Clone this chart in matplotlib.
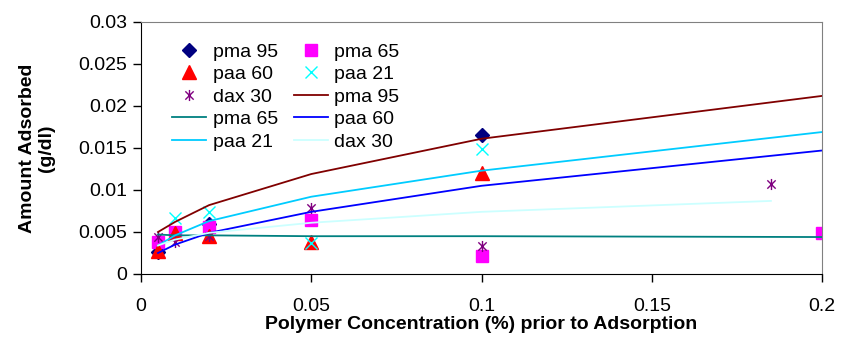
import matplotlib
matplotlib.use("Agg")
import matplotlib.pyplot as plt
from matplotlib.path import Path

plt.rcParams['font.family'] = ['Liberation Sans', 'DejaVu Sans']

# measured points
pma95_x = [0.005, 0.02, 0.1]
pma95_y = [0.0026, 0.0060, 0.0165]
pma65_x = [0.005, 0.01, 0.02, 0.05, 0.1, 0.2]
pma65_y = [0.0038, 0.0050, 0.0056, 0.0064, 0.0021, 0.0049]
paa60_x = [0.005, 0.01, 0.02, 0.05, 0.1]
paa60_y = [0.0027, 0.0049, 0.0045, 0.0038, 0.0120]
paa21_x = [0.01, 0.02, 0.05, 0.1]
paa21_y = [0.0067, 0.0074, 0.0037, 0.0149]
dax30_x = [0.005, 0.01, 0.02, 0.05, 0.1, 0.185]
dax30_y = [0.0044, 0.0038, 0.0045, 0.0079, 0.0033, 0.0107]

# fitted curves
fit_x = [0.005, 0.01, 0.02, 0.05, 0.1, 0.2]
fit_pma95 = [0.0050, 0.0062, 0.0082, 0.0119, 0.0161, 0.0212]
fit_pma65 = [0.0047, 0.0046, 0.0046, 0.0045, 0.0045, 0.0044]
fit_paa60 = [0.0025, 0.0035, 0.0049, 0.0074, 0.0105, 0.0147]
fit_paa21 = [0.0034, 0.0046, 0.0063, 0.0092, 0.0123, 0.0169]
fit_dax_x = [0.005, 0.01, 0.02, 0.05, 0.1, 0.185]
fit_dax30 = [0.0034, 0.0041, 0.0049, 0.0061, 0.0074, 0.0087]

xticks = [0, 0.05, 0.1, 0.15, 0.2]
xticklabels = ['0', '0.05', '0.1', '0.15', '0.2']
yticks = [0, 0.005, 0.01, 0.015, 0.02, 0.025, 0.03]
yticklabels = ['0', '0.005', '0.01', '0.015', '0.02', '0.025', '0.03']

star = Path([(0, -1), (0, 1), (-0.75, -0.75), (0.75, 0.75), (-0.75, 0.75), (0.75, -0.75)],
            [Path.MOVETO, Path.LINETO, Path.MOVETO, Path.LINETO, Path.MOVETO, Path.LINETO])

fig = plt.figure(figsize=(8.52, 3.47), dpi=100)
ax = fig.add_axes([141 / 852, 1 - 274 / 347, 681 / 852, 252 / 347])

m1, = ax.plot(pma95_x, pma95_y, ls='none', marker='D', ms=7.5, color='#000080', label='pma 95')
m2, = ax.plot(pma65_x, pma65_y, ls='none', marker='s', ms=9, color='#FF00FF', label='pma 65')
m3, = ax.plot(paa60_x, paa60_y, ls='none', marker='^', ms=10, color='#FF0000', label='paa 60')
m4, = ax.plot(paa21_x, paa21_y, ls='none', marker='x', ms=8, mew=1, color='#00FFFF', label='paa 21')
m5, = ax.plot(dax30_x, dax30_y, ls='none', marker=star, ms=8, mew=1, color='#800080',
              mfc='none', label='dax 30')

l1, = ax.plot(fit_x, fit_pma95, color='#800000', lw=1.3, label='pma 95')
l2, = ax.plot(fit_x, fit_pma65, color='#008080', lw=1.3, label='pma 65')
l3, = ax.plot(fit_x, fit_paa60, color='#0000FF', lw=1.3, label='paa 60')
l4, = ax.plot(fit_x, fit_paa21, color='#00CCFF', lw=1.3, label='paa 21')
l5, = ax.plot(fit_dax_x, fit_dax30, color='#CCFFFF', lw=1.3, label='dax 30')

ax.set_xlim(0, 0.2)
ax.set_ylim(0, 0.03)
ax.set_xticks(xticks)
ax.set_xticklabels(xticklabels)
ax.set_yticks(yticks)
ax.set_yticklabels(yticklabels)
ax.tick_params(labelsize=14, length=6, width=1, direction='out', pad=4)
ax.tick_params(axis='x', pad=11)

for s in ['left', 'bottom']:
    ax.spines[s].set_color('black')
for s in ['top', 'right']:
    ax.spines[s].set_color('#808080')

ax.set_xlabel('Polymer Concentration (%) prior to Adsorption', fontsize=14,
              fontweight='bold', labelpad=1)
ax.set_ylabel('Amount Adsorbed\n(g/dl)', fontsize=14, fontweight='bold', labelpad=17,
              linespacing=1.1)

# legend is filled column-wise, so reorder to get the row-wise layout
handles = [m1, m3, m5, l2, l4, m2, m4, l1, l3, l5]
ax.legend(handles=handles, labels=[h.get_label() for h in handles], ncol=2,
          frameon=False, fontsize=14, loc='upper left', bbox_to_anchor=(0.0455, 0.916),
          handlelength=1.75, handletextpad=0.35, columnspacing=0.8, labelspacing=0.25,
          borderaxespad=0, borderpad=0)

fig.savefig('out.png', dpi=100)
